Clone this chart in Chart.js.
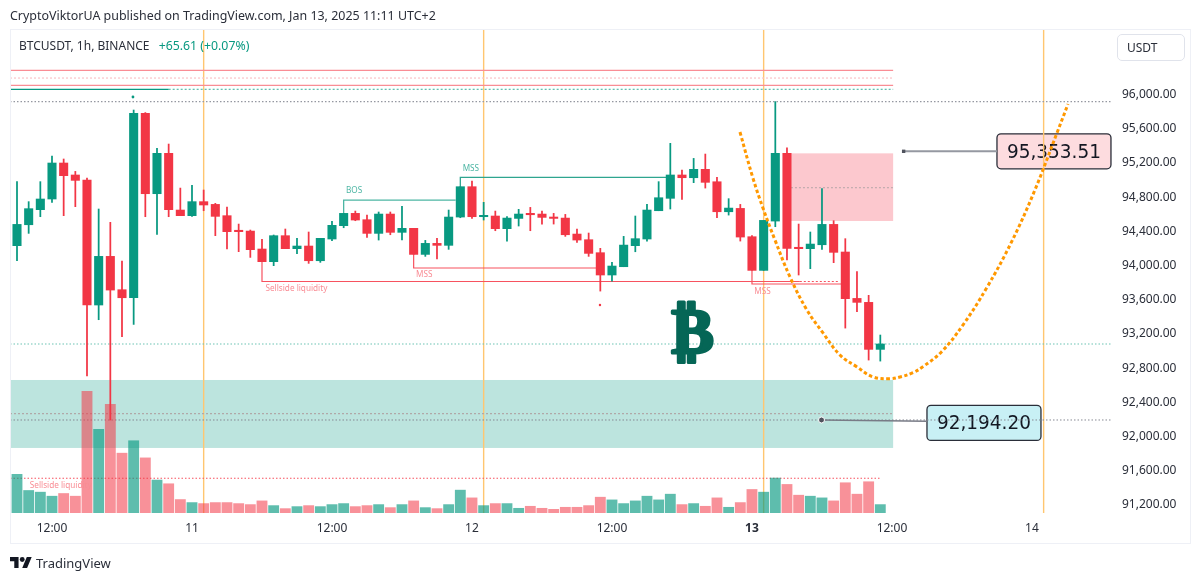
<!DOCTYPE html>
<html>
<head>
<meta charset="utf-8">
<title>BTCUSDT 1h</title>
<script src="https://cdn.jsdelivr.net/npm/chart.js@4/dist/chart.umd.min.js"></script>
<style>
  html, body { margin: 0; padding: 0; background: #fff; }
  #wrap { position: relative; width: 1200px; height: 581px; overflow: hidden; font-family: "Noto Sans", sans-serif; color: #131722; }
  #chart { position: absolute; left: 0; top: 0; }
  #frame { position: absolute; left: 10px; top: 29px; width: 1179px; height: 513px; border: 1px solid #eef0f6; pointer-events: none; }
  .txt { position: absolute; white-space: nowrap; }
  #published { left: 10px; top: 7px; font-size: 12.45px; color: #2a2e39; }
  #legend { left: 19px; top: 37px; font-size: 12px; color: #2a2e39; }
  #legend span { color: #089981; margin-left: 6px; font-size: 12.3px; }
  #usdt { left: 1117px; top: 34px; width: 66px; height: 25px; line-height: 25px; border: 1px solid #e0e3eb; border-radius: 5px; font-size: 12px; text-indent: 9px; color: #2a2e39; }
  #brand { left: 36px; top: 554px; font-size: 13px; color: #2a2e39; }
  #logo { position: absolute; left: 10px; top: 556px; width: 22px; height: 13px; }
</style>
</head>
<body>
<div id="wrap">
  <canvas id="chart" width="1200" height="581"></canvas>
  <div id="frame"></div>
  <div class="txt" id="published">CryptoViktorUA published on TradingView.com, Jan 13, 2025 11:11 UTC+2</div>
  <div class="txt" id="legend">BTCUSDT, 1h, BINANCE <span>+65.61 (+0.07%)</span></div>
  <div class="txt" id="usdt">USDT</div>
  <svg id="logo" viewBox="0 4 36 18"><path fill="#131722" d="M14 22H7V11H0V4h14v18zM28 22h-8l7.5-18h8L28 22z"/><circle fill="#131722" cx="20" cy="8" r="4"/></svg>
  <div class="txt" id="brand">TradingView</div>
</div>
<script>
// hours counted from Jan 10 00:00 (UTC+2)
const hours = [9,10,11,12,13,14,15,16,17,18,19,20,21,22,23,
  24,25,26,27,28,29,30,31,32,33,34,35,36,37,38,39,40,41,42,43,44,45,46,47,
  48,49,50,51,52,53,54,55,56,57,58,59,60,61,62,63,64,65,66,67,68,69,70,71,
  72,73,74,75,76,77,78,79,80,81,82,83];

const opens = [94233,94478,94654,94779,95200,95060,95001,93539,94108,93718,93624,95781,94841,95313,94650,
  94584,94748,94716,94584,94404,94404,94194,94046,94350,94198,94229,94057,94311,94467,94611,94537,94377,94603,94389,94436,94131,94260,94237,94568,
  94923,94572,94580,94432,94552,94603,94603,94568,94556,94369,94303,94151,93890,93987,94233,94311,94642,94787,95060,95028,95126,94981,94630,94669,
  94338,93944,94521,95313,94205,94198,94244,94482,94159,93616,93570,93020];
const highs = [94982,94748,94982,95282,95247,95102,95024,94662,94506,94053,95820,95790,95372,95422,94907,
  94939,94884,94728,94685,94486,94416,94307,94358,94428,94319,94393,94319,94517,94611,94638,94591,94627,94627,94693,94436,94295,94319,94650,94923,
  94989,94740,94638,94572,94658,94681,94638,94611,94599,94428,94381,94202,94038,94342,94580,94716,94982,95430,95118,95254,95305,95032,94783,94716,
  94350,94529,95918,95379,94486,94393,94900,94525,94315,93929,93652,93188];
const lows = [94058,94377,94572,94740,94584,94689,92709,93367,92194,93168,93312,94572,94365,94572,94584,
  94576,94642,94350,94194,94163,94096,94046,93999,94198,94139,94026,94038,94291,94443,94525,94330,94299,94361,94299,94131,94108,94077,94190,94560,
  94552,94533,94408,94287,94463,94408,94486,94486,94342,94272,94108,93702,93819,93987,94162,94287,94642,94662,94775,94970,94907,94560,94591,94287,
  93944,93944,94455,94065,93890,93964,94190,94034,93269,93460,92895,92883];
const closes = [94482,94666,94779,95200,95052,94997,93539,94108,93714,93624,95781,94841,95313,94654,94584,
  94748,94709,94576,94397,94397,94186,94046,94350,94198,94229,94057,94319,94471,94611,94533,94377,94603,94389,94436,94131,94260,94237,94568,94923,
  94572,94580,94432,94556,94603,94595,94564,94552,94361,94299,94143,93890,93995,94240,94315,94650,94794,95060,95028,95126,94974,94630,94673,94334,
  93944,94529,95313,94202,94198,94252,94482,94155,93613,93570,93020,93083];
const volumes = [115,67,62,50,58,50,362,249,323,178,215,164,98,87,40,
  31,28,31,31,28,25,36,22,13,19,22,19,25,28,19,22,25,16,25,36,16,13,25,68,
  45,22,28,28,14,20,14,11,17,17,22,47,39,28,36,50,39,56,25,28,20,45,17,31,
  70,62,104,85,53,50,45,36,90,56,93,25];

const priceTicks = [91200,91600,92000,92400,92800,93200,93600,94000,94400,94800,95200,95600,96000];
const timeTickHours = [12,24,36,48,60,72,84,96];
const timeTickLabels = ['12:00','11','12:00','12','12:00','13','12:00','14'];

const sessionHours = [25,49,73,97];

// horizontal levels: from hour, to hour, price
const levelFrom   = [8.4,8.4,8.4,8.4,22,8.4,8.4,8.4,8.4,8.4,75];
const levelTo     = [84.1,84.1,84.1,22,84.1,102.86,102.86,84.1,102.86,83,84.1];
const levelPrices = [96284,96194,96109,96062,96062,95918,93083,92268,92194,91512,94911];

// zones: from hour, to hour, upper, lower
const sellZone = [75,84.1,95313,94522];
const buyZone  = [8.4,84.1,92662,91867];

const bosHours = [37,37,46.6];
const bosPrices = [94611,94767,94767];
const mssUpHours = [47,47,65];
const mssUpPrices = [94923,95033,95033];
const mssDownHours = [43,43,58.7];
const mssDownPrices = [94131,93972,93972];
const liqHours = [30,30,76.1];
const liqPrices = [94046,93814,93814];
const liqTailHours = [76.1,79.5];
const liqTailPrices = [93814,93814];
const mssRightHours = [72,72,79.7];
const mssRightPrices = [93944,93785,93785];

const curveHours = [70.97,72.08,72.94,73.97,75.26,76.71,78.09,79.54,81,82.37,83.83,84.69,85.8,86.66,88.26,90.08,92.11,94.26,96.25,98.14,99.09];
const curvePrices = [95563,95025,94674,94300,93867,93481,93212,92955,92815,92698,92677,92697,92747,92818,92993,93305,93738,94280,94884,95551,95890];

const upperNoteHours = [85,93];
const upperNotePrices = [95337,95337];
const lowerNoteHours = [77.96,87];
const lowerNotePrices = [92194,92180];

const UP = '#089981', DOWN = '#f23645';
const UP_VOL = 'rgba(8,153,129,0.65)', DOWN_VOL = 'rgba(242,54,69,0.55)';

const levelStyles = [
  { c: '#f98d95', w: 1.2, d: [] },
  { c: '#fbc3c8', w: 1.2, d: [2, 2] },
  { c: '#f98d95', w: 1.2, d: [] },
  { c: UP, w: 1.4, d: [] },
  { c: '#5bbcab', w: 1.2, d: [2, 2] },
  { c: '#9598a1', w: 1.1, d: [1.5, 2] },
  { c: '#6cc3b3', w: 1.2, d: [1.5, 2] },
  { c: '#b0a8a8', w: 1.2, d: [2, 2] },
  { c: '#868993', w: 1, d: [1.5, 2] },
  { c: '#f7525f', w: 1.1, d: [1.5, 2] },
  { c: '#b5a5a8', w: 1, d: [2, 2] },
];

function pairs(xs, ys) { return xs.map((x, i) => ({ x, y: ys[i] })); }

function lineSet(xs, ys, color, width, dash, order) {
  return {
    type: 'line', data: pairs(xs, ys), borderColor: color, borderWidth: width,
    borderDash: dash || [], pointRadius: 0, tension: 0, fill: false, order, yAxisID: 'y',
  };
}

function dotSet(x, y, color, radius, style, border) {
  return {
    type: 'line', data: [{ x, y }], showLine: false, pointRadius: radius, pointStyle: style,
    pointBackgroundColor: color, pointBorderColor: border || color, pointBorderWidth: border ? 1 : 0,
    order: 1, yAxisID: 'y',
  };
}

const isUp = opens.map((o, i) => closes[i] >= o);

const datasets = [
  // orange projection curve sits on top of everything
  Object.assign(lineSet(curveHours, curvePrices, '#ff9800', 3, [3.5, 2.5], 0), { tension: 0.4 }),
  dotSet(18.94, 95972, UP, 1.4, 'circle'),
  dotSet(58.97, 93540, DOWN, 1.2, 'circle'),
  dotSet(85, 95337, '#50535e', 2.4, 'rect'),
  dotSet(77.96, 92194, '#50535e', 3, 'circle', '#ffffff'),
  {
    type: 'bar', label: 'body', grouped: false, order: 2, yAxisID: 'y',
    data: hours.map((h, i) => ({ x: h, y: [opens[i], closes[i]] })),
    backgroundColor: isUp.map(u => (u ? UP : DOWN)),
    barThickness: 8.4, minBarLength: 1.4,
  },
  {
    type: 'bar', label: 'wick', grouped: false, order: 3, yAxisID: 'y',
    data: hours.map((h, i) => ({ x: h, y: [lows[i], highs[i]] })),
    backgroundColor: isUp.map(u => (u ? UP : DOWN)),
    barThickness: 1.1,
  },
  {
    type: 'bar', label: 'volume', grouped: false, order: 4, yAxisID: 'yVol',
    data: hours.map((h, i) => ({ x: h, y: volumes[i] })),
    backgroundColor: isUp.map(u => (u ? UP_VOL : DOWN_VOL)),
    barThickness: 10.2,
  },
  lineSet(upperNoteHours, upperNotePrices, '#9598a1', 2, [], 5),
  lineSet(lowerNoteHours, lowerNotePrices, '#787b86', 1.6, [], 5),
  lineSet(bosHours, bosPrices, '#4db6a4', 1.3, [], 5),
  lineSet(mssUpHours, mssUpPrices, '#2ea58f', 1.3, [], 5),
  lineSet(mssDownHours, mssDownPrices, '#f7525f', 1.2, [], 5),
  lineSet(liqHours, liqPrices, '#f7525f', 1.2, [], 5),
  lineSet(liqTailHours, liqTailPrices, '#f7525f', 1, [2, 2], 5),
  lineSet(mssRightHours, mssRightPrices, '#f7525f', 1.2, [], 5),
];

levelPrices.forEach((p, i) => {
  const s = levelStyles[i];
  datasets.push(lineSet([levelFrom[i], levelTo[i]], [p, p], s.c, s.w, s.d, 6));
});

sessionHours.forEach(h => {
  datasets.push(lineSet([h, h], [91106, 96756], '#ffc670', 1.4, [], 7));
});

// shaded zones and the two price callouts go under the datasets
const underlay = {
  id: 'underlay',
  beforeDatasetsDraw(chart) {
    const { ctx, scales: { x, y } } = chart;
    ctx.save();
    ctx.fillStyle = '#fcc8ce';
    ctx.fillRect(x.getPixelForValue(sellZone[0]), y.getPixelForValue(sellZone[2]),
      x.getPixelForValue(sellZone[1]) - x.getPixelForValue(sellZone[0]),
      y.getPixelForValue(sellZone[3]) - y.getPixelForValue(sellZone[2]));
    ctx.fillStyle = '#bce4de';
    ctx.fillRect(x.getPixelForValue(buyZone[0]), y.getPixelForValue(buyZone[2]),
      x.getPixelForValue(buyZone[1]) - x.getPixelForValue(buyZone[0]),
      y.getPixelForValue(buyZone[3]) - y.getPixelForValue(buyZone[2]));
    drawCallout(ctx, x.getPixelForValue(93), y.getPixelForValue(95337), '95,353.51', '#fddcdf');
    drawCallout(ctx, x.getPixelForValue(87), y.getPixelForValue(92160), '92,194.20', '#c8f0f5');
    ctx.restore();
  },
};

function drawCallout(ctx, left, midY, text, fill) {
  ctx.beginPath();
  ctx.roundRect(left, midY - 17.5, 114, 35, 4);
  ctx.fillStyle = fill;
  ctx.fill();
  ctx.lineWidth = 1.3;
  ctx.strokeStyle = '#2a2e39';
  ctx.stroke();
  ctx.fillStyle = '#131722';
  ctx.font = '20px "DejaVu Sans"';
  ctx.textAlign = 'center';
  ctx.textBaseline = 'middle';
  ctx.fillText(text, left + 57, midY + 1, 94);
}

// little chart notes and the coin mark on top
const notes = {
  id: 'notes',
  afterDatasetsDraw(chart) {
    const { ctx, scales: { x, y } } = chart;
    ctx.save();
    ctx.textAlign = 'left';
    ctx.textBaseline = 'middle';
    const note = (h, p, t, c) => {
      ctx.fillStyle = c;
      ctx.font = '8.2px "Noto Sans"';
      ctx.fillText(t, x.getPixelForValue(h), y.getPixelForValue(p));
    };
    note(37.2, 94880, 'BOS', '#4db6a4');
    note(47.2, 95130, 'MSS', '#4db6a4');
    note(43.2, 93890, 'MSS', '#f98d95');
    note(30.3, 93730, 'Sellside liquidity', '#f98d95');
    note(72.2, 93700, 'MSS', '#f98d95');
    note(10.1, 91430, 'Sellside liquidity', '#f98d95');
    ctx.fillStyle = '#056656';
    ctx.strokeStyle = '#056656';
    ctx.lineWidth = 3;
    ctx.lineJoin = 'round';
    ctx.font = 'bold 64px "DejaVu Sans"';
    ctx.textAlign = 'center';
    const coinX = x.getPixelForValue(66.9), coinY = y.getPixelForValue(93177);
    ctx.fillText('\u20bf', coinX, coinY);
    ctx.strokeText('\u20bf', coinX, coinY);
    ctx.restore();
  },
};

new Chart(document.getElementById('chart'), {
  data: { datasets },
  plugins: [underlay, notes],
  options: {
    responsive: false,
    animation: false,
    parsing: true,
    layout: { padding: { top: 30, left: 10, right: 10, bottom: 38 } },
    plugins: { legend: { display: false }, tooltip: { enabled: false }, title: { display: false } },
    scales: {
      x: {
        type: 'linear', min: 8.4, max: 102.86, offset: false,
        grid: { display: false, drawTicks: false }, border: { display: false },
        afterBuildTicks: s => { s.ticks = timeTickHours.map(value => ({ value })); },
        afterFit: s => { s.height = 30; },
        ticks: {
          autoSkip: false, maxRotation: 0, padding: 8, color: '#2a2e39',
          font: ctx => ({ family: '"Noto Sans"', size: 12, weight: ctx.tick && ctx.tick.value === 72 ? 'bold' : 'normal' }),
          callback: v => timeTickLabels[timeTickHours.indexOf(v)],
        },
      },
      y: {
        position: 'right', min: 91106, max: 96756,
        grid: { display: false, drawTicks: false }, border: { display: false },
        afterBuildTicks: s => { s.ticks = priceTicks.map(value => ({ value })); },
        afterFit: s => { s.width = 78; },
        ticks: {
          autoSkip: false, padding: 10, color: '#2a2e39',
          font: { family: '"Noto Sans"', size: 12 },
          callback: v => v.toLocaleString('en-US', { minimumFractionDigits: 2 }),
        },
      },
      yVol: { display: false, min: 0, max: 1437 },
    },
  },
});
</script>
</body>
</html>
